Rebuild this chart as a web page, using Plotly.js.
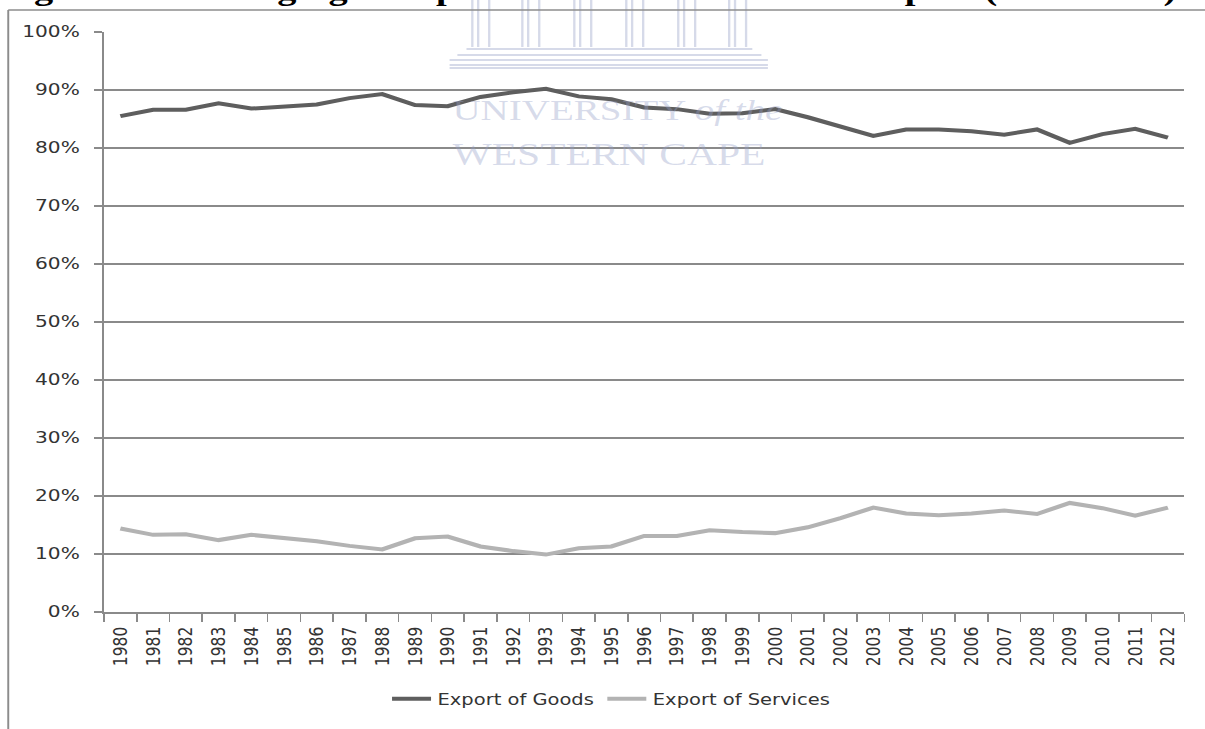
<!DOCTYPE html>
<html>
<head>
<meta charset="utf-8">
<script src="https://cdn.plot.ly/plotly-3.0.1.min.js"></script>
<style>
  html, body { margin: 0; padding: 0; background: #ffffff; overflow: hidden; }
  /* the chart is laid out narrow and then widened horizontally */
  #chart { width: 927px; height: 729px; transform: scaleX(1.3); transform-origin: 0 0; }
</style>
</head>
<body>
<div id="chart"></div>
<script>
// Share of total exports, in percent
const years = ["1980","1981","1982","1983","1984","1985","1986","1987","1988","1989",
               "1990","1991","1992","1993","1994","1995","1996","1997","1998","1999",
               "2000","2001","2002","2003","2004","2005","2006","2007","2008","2009",
               "2010","2011","2012"];
const exportGoods = [85.5, 86.6, 86.6, 87.7, 86.8, 87.2, 87.5, 88.6, 89.3, 87.4,
                     87.2, 88.8, 89.6, 90.2, 88.9, 88.4, 87.0, 86.7, 85.9, 86.0,
                     86.7, 85.3, 83.7, 82.1, 83.2, 83.2, 82.9, 82.3, 83.2, 80.9,
                     82.4, 83.3, 81.8];
const exportServices = [14.4, 13.3, 13.4, 12.4, 13.3, 12.8, 12.2, 11.4, 10.8, 12.7,
                        13.0, 11.3, 10.5, 9.9, 11.0, 11.3, 13.1, 13.1, 14.1, 13.8,
                        13.6, 14.6, 16.2, 18.0, 17.0, 16.7, 17.0, 17.5, 16.9, 18.8,
                        17.9, 16.6, 18.0];
const seriesNames = ["Export of Goods", "Export of Services"];
const yTicks = [0, 10, 20, 30, 40, 50, 60, 70, 80, 90, 100];
const figureTitle = "Figure 4.3: Changing Composition of South Africa's Export (1980-2012)";

// plot frame in layout pixels (before widening)
const W = 927, H = 729;
const M = { l: 80, r: 15.5, t: 32, b: 117 };
const pw = W - M.l - M.r, ph = H - M.t - M.b;
const px = x => (x - M.l) / pw;          // layout x pixel -> paper
const py = y => (H - M.b - y) / ph;      // layout y pixel -> paper

const crest = "rgb(214,218,233)";
const shapes = [];

// outer chart border (top and left edges)
shapes.push({ type: "line", xref: "paper", yref: "paper", x0: px(6.3), x1: px(W + 5), y0: py(10), y1: py(10),
              line: { color: "#8c8c8c", width: 1.5 } });
shapes.push({ type: "line", xref: "paper", yref: "paper", x0: px(6.3), x1: px(6.3), y0: py(10), y1: py(H + 5),
              line: { color: "#8c8c8c", width: 1.5 } });

// university crest: columns and steps
[370, 408.5, 448.5, 488.5, 528.5, 567.7].forEach(c => {
  [-6.5, -2, 6.5].forEach(d => {
    shapes.push({ type: "line", xref: "paper", yref: "paper", layer: "below",
                  x0: px(c + d), x1: px(c + d), y0: py(0), y1: py(47),
                  line: { color: crest, width: 1.8 } });
  });
});
[[359, 579, 49], [352, 586, 55], [346, 591, 60], [346, 591, 65], [346, 591, 68]].forEach(s => {
  shapes.push({ type: "line", xref: "paper", yref: "paper", layer: "below",
                x0: px(s[0]), x1: px(s[1]), y0: py(s[2]), y1: py(s[2]),
                line: { color: crest, width: 2.2 } });
});

const annotations = [
  { text: "UNIVERSITY <i>of the</i>", xref: "paper", yref: "paper", x: px(346), y: py(109), xanchor: "left", yanchor: "middle",
    showarrow: false, font: { family: "Liberation Serif", size: 30, color: "rgba(150,160,200,0.38)" } },
  { text: "WESTERN CAPE", xref: "paper", yref: "paper", x: px(346), y: py(154), xanchor: "left", yanchor: "middle",
    showarrow: false, font: { family: "Liberation Serif", size: 32, color: "rgba(150,160,200,0.38)" } }
];

const traces = [
  { type: "scatter", mode: "lines", name: seriesNames[0], x: years, y: exportGoods,
    line: { color: "#5e5e5e", width: 4 } },
  { type: "scatter", mode: "lines", name: seriesNames[1], x: years, y: exportServices,
    line: { color: "#b3b3b3", width: 4 } }
];

const tickFont = { family: "DejaVu Sans", size: 15.5, color: "#333333" };

const layout = {
  width: W, height: H,
  margin: M,
  paper_bgcolor: "#ffffff", plot_bgcolor: "#ffffff",
  // figure caption sits at the very top edge of the page
  title: { text: figureTitle, xref: "container", yref: "container", x: 0, xanchor: "left",
           y: 1, yanchor: "bottom",
           font: { family: "Liberation Serif", size: 29.5, color: "#000000", weight: "bold" } },
  showlegend: true,
  legend: { orientation: "h", x: 0.47, xanchor: "center", y: py(699), yanchor: "middle",
            font: { family: "DejaVu Sans", size: 15, color: "#333333" }, bgcolor: "rgba(0,0,0,0)" },
  xaxis: {
    type: "category", range: [-0.5, years.length - 0.5],
    tickmode: "array", tickvals: years, ticktext: years,
    tickangle: -90, tickson: "boundaries", ticks: "outside", ticklen: 8, tickwidth: 1.2, tickcolor: "#8a8a8a",
    ticklabelstandoff: 7,
    showline: true, linecolor: "#8a8a8a", linewidth: 1.5,
    showgrid: false, zeroline: false, tickfont: tickFont, fixedrange: true
  },
  yaxis: {
    range: [0, 100], tickmode: "array", tickvals: yTicks, ticktext: yTicks.map(v => v + "%"),
    ticks: "outside", ticklen: 6, tickwidth: 1.2, tickcolor: "#8a8a8a",
    ticklabelstandoff: 8,
    showline: true, linecolor: "#8a8a8a", linewidth: 1.5,
    showgrid: true, gridcolor: "#8a8a8a", gridwidth: 1.2, zeroline: false,
    tickfont: tickFont, fixedrange: true
  },
  shapes: shapes,
  annotations: annotations
};

Plotly.newPlot("chart", traces, layout, { displayModeBar: false, staticPlot: true });
</script>
</body>
</html>
